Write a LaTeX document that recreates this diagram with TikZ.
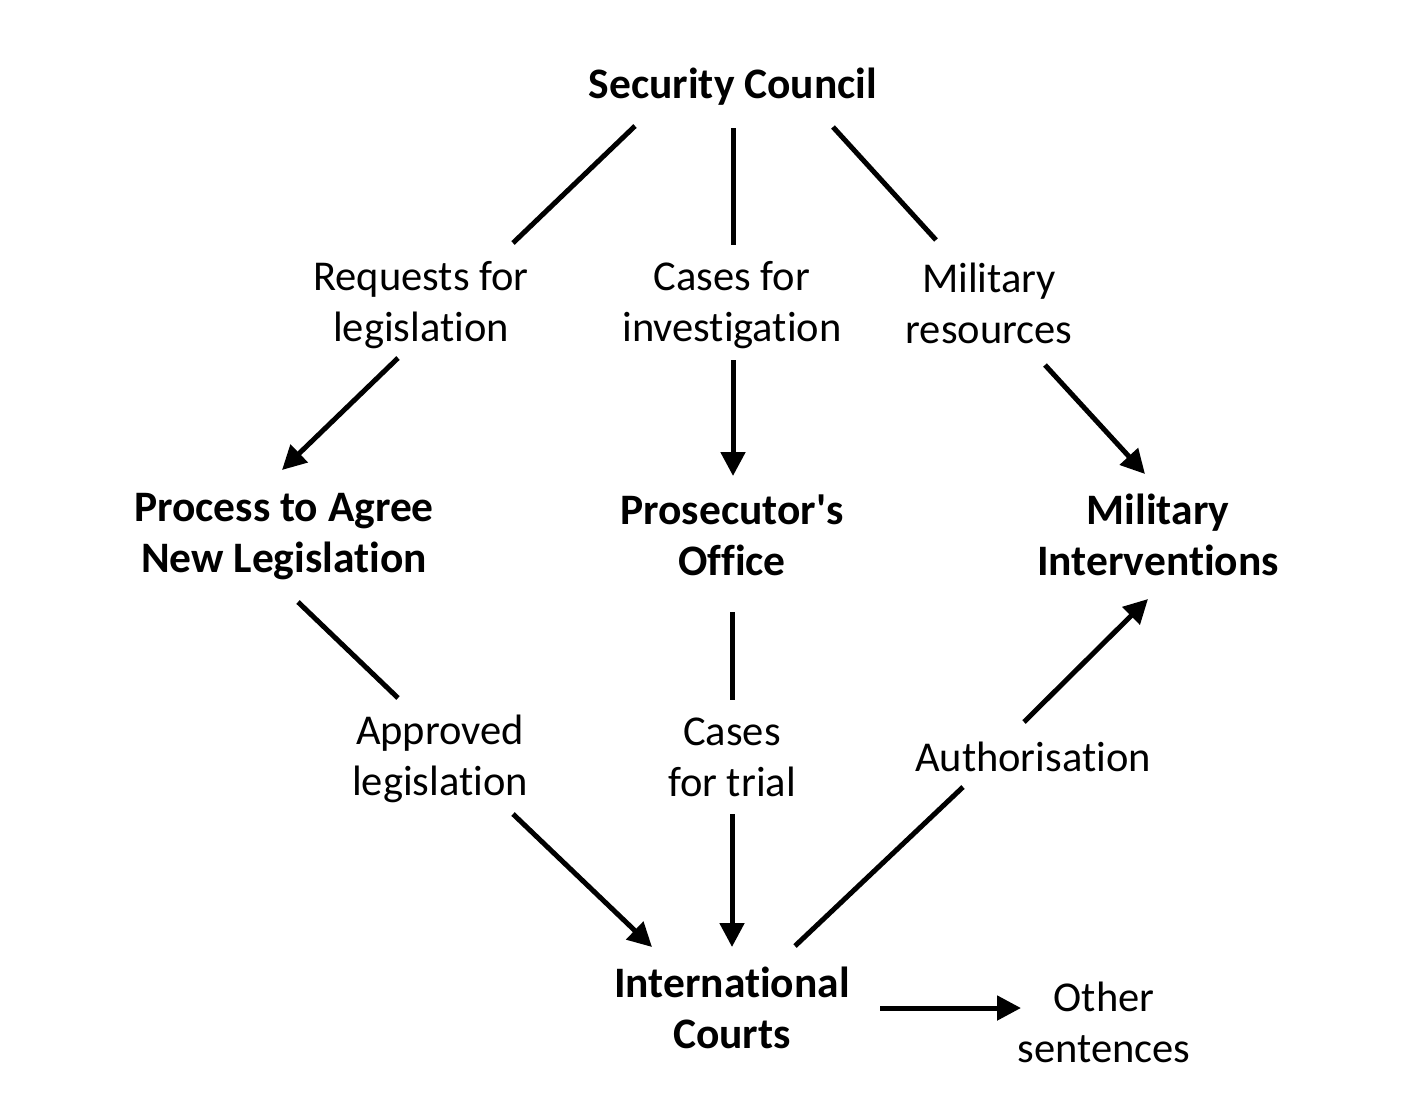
\documentclass[tikz,border=0pt]{standalone}
\usepackage{fontspec}
\setmainfont{Carlito}[Ligatures={NoCommon}]
\usetikzlibrary{arrows.meta}
\tikzset{
  box/.style={font=\fontsize{43.5}{51}\selectfont\bfseries, align=center, inner sep=0pt},
  lbl/.style={font=\fontsize{42.5}{51}\selectfont, align=center, inner sep=0pt},
  con/.style={line width=5pt},
  arr/.style={con, -{Triangle[length=24pt,width=24pt]}},
}
\begin{document}
\begin{tikzpicture}[x=1pt,y=-1pt]
\useasboundingbox (0,0) rectangle (1423,1109);
% nodes
\node[box] (sc) at (733,87) {Security Council};
\node[lbl] (req) at (421,305) {Requests for\\legislation};
\node[lbl] (inv) at (732,305) {Cases for\\investigation};
\node[lbl] (mres) at (989,303) {Military\\resources};
\node[box] (proc) at (284,537) {Process to Agree\\New Legislation};
\node[box] (pros) at (732,535) {Prosecutor\textquotesingle s\\Office};
\node[box] (mint) at (1158,535) {Military\\Interventions};
\node[lbl] (appr) at (440,759) {Approved\\legislation};
\node[lbl] (trial) at (732,757) {Cases\\for trial};
\node[lbl] (auth) at (1033,757) {Authorisation};
\node[box] (ic) at (732,1008) {International\\Courts};
\node[lbl] (oth) at (1104,1022) {Other\\sentences};
% connector end points
\coordinate (sc1) at (635,126); \coordinate (req1) at (513,243);
\coordinate (req2) at (398,358); \coordinate (proc1) at (282,470);
\coordinate (sc2) at (733,128); \coordinate (inv1) at (733,245);
\coordinate (inv2) at (733,360); \coordinate (pros1) at (733,476);
\coordinate (sc3) at (833,127); \coordinate (mres1) at (936,240);
\coordinate (mres2) at (1045,365); \coordinate (mint1) at (1145,474);
\coordinate (proc2) at (298,602); \coordinate (appr1) at (398,698);
\coordinate (appr2) at (513,814); \coordinate (ic1) at (652,947);
\coordinate (pros2) at (732,612); \coordinate (trial1) at (732,700);
\coordinate (trial2) at (732,814); \coordinate (ic2) at (732,947);
\coordinate (ic3) at (795,946); \coordinate (auth1) at (963,787);
\coordinate (auth2) at (1024,722); \coordinate (mint2) at (1148,599);
\coordinate (ic4) at (880,1008); \coordinate (oth1) at (1021,1008);
% connectors
\draw[con] (sc1) -- (req1);
\draw[arr] (req2) -- (proc1);
\draw[con] (sc2) -- (inv1);
\draw[arr] (inv2) -- (pros1);
\draw[con] (sc3) -- (mres1);
\draw[arr] (mres2) -- (mint1);
\draw[con] (proc2) -- (appr1);
\draw[arr] (appr2) -- (ic1);
\draw[con] (pros2) -- (trial1);
\draw[arr] (trial2) -- (ic2);
\draw[con] (ic3) -- (auth1);
\draw[arr] (auth2) -- (mint2);
\draw[arr] (ic4) -- (oth1);
\end{tikzpicture}
\end{document}
